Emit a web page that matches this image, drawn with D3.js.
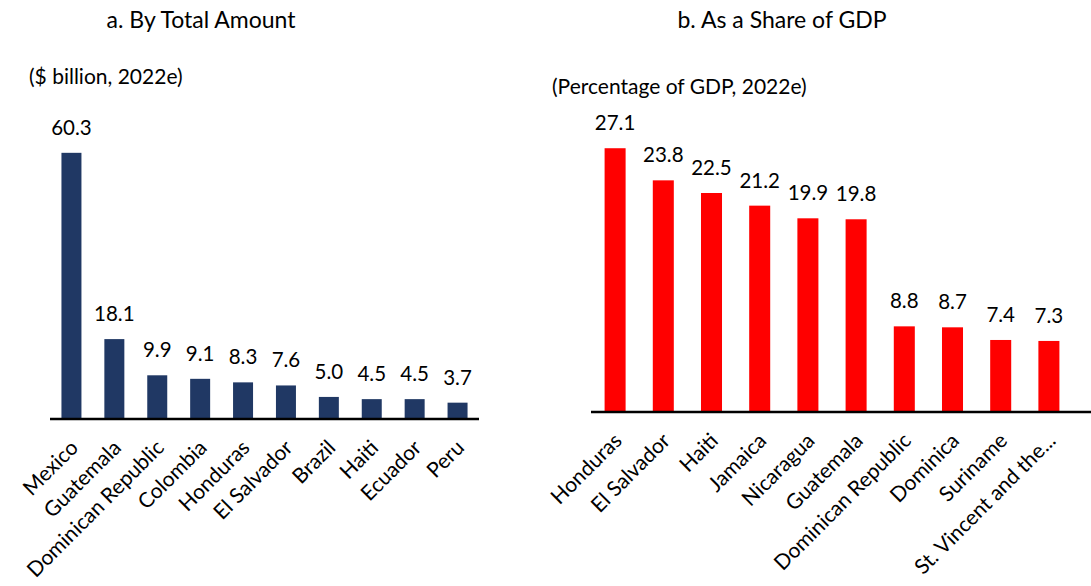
<!DOCTYPE html>
<html>
<head>
<meta charset="utf-8">
<script src="https://cdn.jsdelivr.net/npm/d3@7"></script>
<style>
  body { margin: 0; background: #fff; }
  svg { display: block; font-family: Lato, "Open Sans", sans-serif; }
  .title { font-size: 23px; text-anchor: middle; fill: #000; }
  .subtitle { font-size: 21px; fill: #000; }
  .value { font-size: 20.5px; text-anchor: middle; fill: #000; }
  .cat { font-size: 21px; text-anchor: end; fill: #000; }
  .baseline { stroke: #000; stroke-width: 2.5; }
</style>
</head>
<body>
<svg class="chart" width="1091" height="586"></svg>
<script>
// panel a: remittances, $ billion, 2022e
const totalCountries = ['Mexico', 'Guatemala', 'Dominican Republic', 'Colombia', 'Honduras',
  'El Salvador', 'Brazil', 'Haiti', 'Ecuador', 'Peru'];
const totalValues = [60.3, 18.1, 9.9, 9.1, 8.3, 7.6, 5.0, 4.5, 4.5, 3.7];

// panel b: remittances, percentage of GDP, 2022e
const shareCountries = ['Honduras', 'El Salvador', 'Haiti', 'Jamaica', 'Nicaragua',
  'Guatemala', 'Dominican Republic', 'Dominica', 'Suriname', 'St. Vincent and the...'];
const shareValues = [27.1, 23.8, 22.5, 21.2, 19.9, 19.8, 8.8, 8.7, 7.4, 7.3];

const svg = d3.select('.chart');

const drawPanel = ({ title, titleX, subtitle, subX, subY, countries, values, color,
  xRange, axisEnd, yMax, yRange, padding }) => {
  const data = countries.map((name, i) => ({ name, value: values[i] }));
  const x = d3.scaleBand().domain(countries).range(xRange)
    .paddingInner(padding).paddingOuter(padding / 2);
  const y = d3.scaleLinear().domain([0, yMax]).range(yRange);
  const g = svg.append('g');

  g.append('text').attr('class', 'title').attr('x', titleX).attr('y', 28).text(title);
  g.append('text').attr('class', 'subtitle').attr('x', subX).attr('y', subY).text(subtitle);

  g.selectAll('rect')
    .data(data)
    .enter()
    .append('rect')
    .attr('x', d => x(d.name))
    .attr('width', x.bandwidth())
    .attr('y', d => y(d.value))
    .attr('height', d => y(0) - y(d.value))
    .attr('fill', color);

  g.selectAll('.value')
    .data(data)
    .enter()
    .append('text')
    .attr('class', 'value')
    .attr('x', d => x(d.name) + x.bandwidth() / 2)
    .attr('y', d => y(d.value) - 18)
    .text(d => d.value.toFixed(1));

  g.append('line')
    .attr('class', 'baseline')
    .attr('x1', xRange[0]).attr('x2', axisEnd)
    .attr('y1', y(0)).attr('y2', y(0));

  g.selectAll('.cat')
    .data(data)
    .enter()
    .append('text')
    .attr('class', 'cat')
    .attr('transform', d => `translate(${x(d.name) + x.bandwidth() / 2 + 8}, ${y(0) + 30}) rotate(-45)`)
    .text(d => d.name);
};

drawPanel({
  title: 'a. By Total Amount', titleX: 201, subtitle: '($ billion, 2022e)', subX: 29, subY: 84,
  countries: totalCountries, values: totalValues, color: '#203864',
  xRange: [50, 479], axisEnd: 479, yMax: 70, yRange: [419, 110], padding: 0.534,
});

drawPanel({
  title: 'b. As a Share of GDP', titleX: 782, subtitle: '(Percentage of GDP, 2022e)', subX: 552, subY: 94,
  countries: shareCountries, values: shareValues, color: '#ff0000',
  xRange: [591, 1073], axisEnd: 1100, yMax: 30, yRange: [412, 120], padding: 0.564,
});
</script>
</body>
</html>
